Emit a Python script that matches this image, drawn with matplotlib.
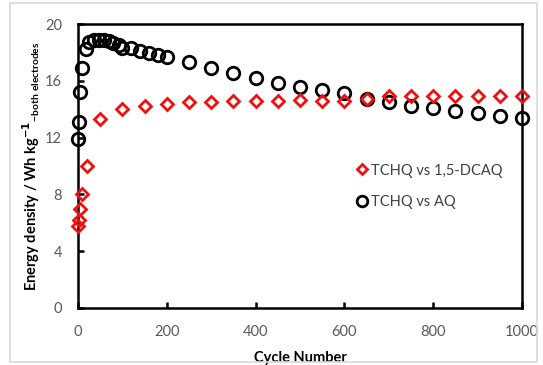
import matplotlib
matplotlib.use("Agg")
import matplotlib.pyplot as plt
from matplotlib.patches import Rectangle

plt.rcParams['font.family'] = ['Lato', 'DejaVu Sans']

# TCHQ vs 1,5-DCAQ (red diamonds)
dcaq_cycle = [1, 2, 5, 10, 20, 50, 100, 150, 200, 250, 300, 350, 400, 450, 500,
              550, 600, 650, 700, 750, 800, 850, 900, 950, 1000]
dcaq_energy = [5.8, 6.2, 7.0, 8.0, 10.0, 13.3, 14.0, 14.25, 14.4, 14.5, 14.5, 14.6,
               14.6, 14.55, 14.65, 14.6, 14.55, 14.7, 14.9, 14.9, 14.9, 14.9, 14.95,
               14.95, 14.95]

# TCHQ vs AQ (black circles)
aq_cycle = [1, 2, 5, 10, 18, 25, 36, 47, 58, 69, 80, 92, 100, 120, 140, 160, 180, 200,
            250, 300, 350, 400, 450, 500, 550, 600, 650, 700, 750, 800, 850, 900,
            950, 1000]
aq_energy = [11.9, 13.1, 15.2, 16.9, 18.25, 18.75, 18.9, 18.9, 18.9, 18.8, 18.65, 18.5,
             18.35, 18.3, 18.1, 17.95, 17.8, 17.7, 17.35, 16.9, 16.58, 16.23, 15.88,
             15.57, 15.36, 15.12, 14.75, 14.51, 14.23, 14.11, 13.88, 13.76, 13.52,
             13.36]

x_ticks = [0, 200, 400, 600, 800, 1000]
y_ticks = [0, 4, 8, 12, 16, 20]

fig = plt.figure(figsize=(5.43, 3.65), dpi=100)
fig.patches.append(Rectangle((10 / 543, 3 / 365), 527 / 543, 359 / 365,
                             transform=fig.transFigure, fill=False,
                             edgecolor='#d9d9d9', linewidth=1.2))
ax = fig.add_axes([0.1436, 0.1562, 0.8177, 0.7778])

ax.plot(aq_cycle, aq_energy, linestyle='none', marker='o', markersize=9,
        markerfacecolor='none', markeredgecolor='black', markeredgewidth=2,
        label='TCHQ vs AQ', clip_on=False, zorder=3)
ax.plot(dcaq_cycle, dcaq_energy, linestyle='none', marker='D', markersize=6.5,
        markerfacecolor='none', markeredgecolor='#ee1111', markeredgewidth=2,
        label='TCHQ vs 1,5-DCAQ', clip_on=False, zorder=4)

ax.set_xlim(0, 1000)
ax.set_ylim(0, 20)
ax.set_xticks(x_ticks)
ax.set_yticks(y_ticks)
for s in ax.spines.values():
    s.set_linewidth(1.8)
ax.tick_params(direction='in', length=4, width=1.8, labelsize=10.5,
               labelcolor='#595959')
ax.tick_params(axis='x', pad=12)
ax.tick_params(axis='y', pad=11.5)

ax.set_xlabel('Cycle Number', fontsize=10.5, fontweight='bold', labelpad=9)
ax.set_ylabel(r'Energy density / Wh kg$^{\mathbf{-1}}$$_{\mathregular{-both\ electrodes}}$',
              fontsize=10.5, fontweight='bold', labelpad=2)

handles, labels = ax.get_legend_handles_labels()
leg = ax.legend(handles[::-1], labels[::-1], loc='upper left',
                bbox_to_anchor=(0.6, 0.555), frameon=False, fontsize=10.5,
                handlelength=0.6, handletextpad=0.3, labelspacing=1.2,
                markerscale=0.85)
for t in leg.get_texts():
    t.set_color('#404040')

fig.savefig('out.png', dpi=100)
